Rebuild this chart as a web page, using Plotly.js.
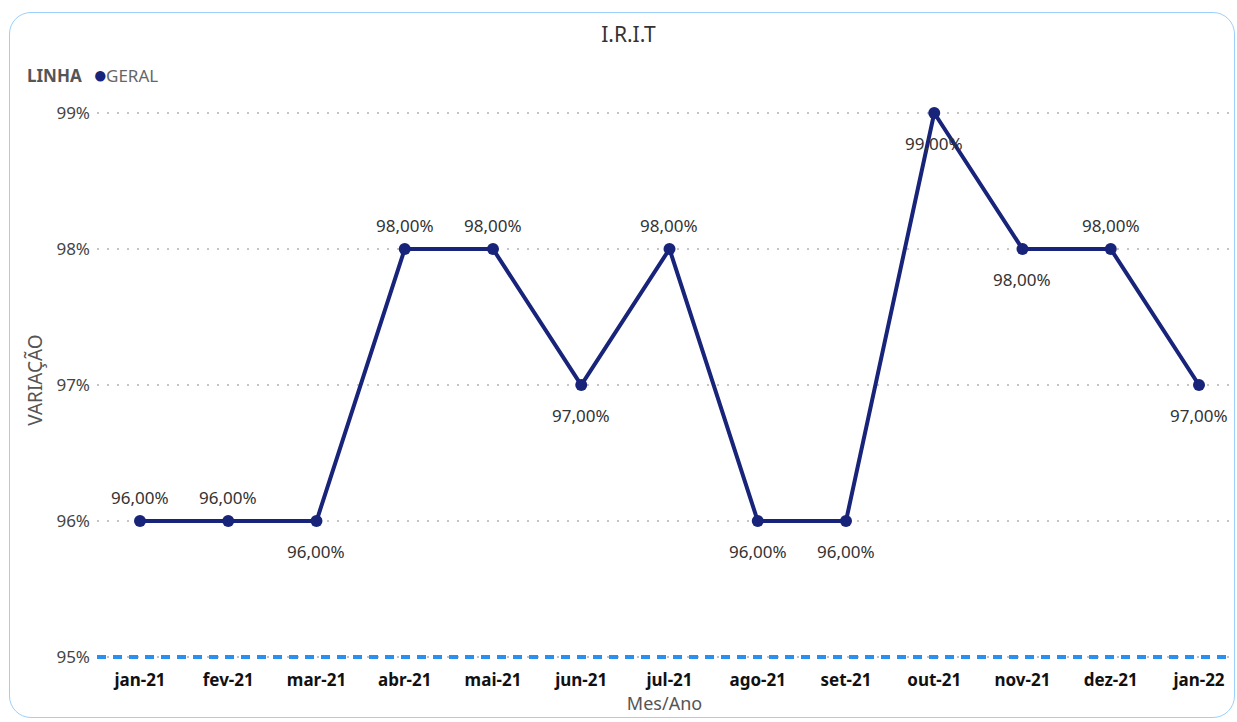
<!DOCTYPE html>
<html>
<head>
<meta charset="utf-8">
<script src="https://cdn.plot.ly/plotly-3.0.1.min.js"></script>
<style>
html,body{margin:0;padding:0;background:#fff;}
#frame{position:absolute;left:9px;top:12px;width:1226px;height:706px;border:1.5px solid #9ccffa;border-radius:22px;box-sizing:border-box;}
#chart{position:absolute;left:0;top:0;width:1237px;height:722px;}
</style>
</head>
<body>
<div id="frame"></div>
<div id="chart"></div>
<script>
const months = ["jan-21","fev-21","mar-21","abr-21","mai-21","jun-21","jul-21","ago-21","set-21","out-21","nov-21","dez-21","jan-22"];
const geral = [0.96,0.96,0.96,0.98,0.98,0.97,0.98,0.96,0.96,0.99,0.98,0.98,0.97];
const labelAbove = [true,true,false,true,true,false,true,false,false,false,false,true,false];
const yTicks = [0.95,0.96,0.97,0.98,0.99];
const refLine = 0.95;

const font = "'Noto Sans', 'Open Sans', sans-serif";
const navy = "#17247a";

const trace = {
  x: months,
  y: geral,
  type: "scatter",
  mode: "lines+markers",
  line: {color: navy, width: 4},
  marker: {color: navy, size: 12},
  cliponaxis: false,
  showlegend: false,
  hoverinfo: "x+y"
};

const fmt = v => (v * 100).toFixed(2).replace(".", ",") + "%";
const labelAnns = months.map((m, i) => ({
  x: m, y: geral[i], xref: "x", yref: "y",
  text: fmt(geral[i]), showarrow: false,
  xanchor: "center", yanchor: "middle",
  yshift: labelAbove[i] ? 24 : -30,
  font: {family: font, size: 17, color: "#333"}
}));

const layout = {
  width: 1237, height: 722,
  margin: {l: 97, r: 5, t: 100, b: 62},
  paper_bgcolor: "rgba(0,0,0,0)",
  plot_bgcolor: "rgba(0,0,0,0)",
  separators: ",.",
  font: {family: font},
  title: {text: "I.R.I.T", font: {family: font, size: 21, color: "#333"}, x: 0.508, xanchor: "center", y: 0.952, yanchor: "middle"},
  xaxis: {
    type: "category",
    range: [-0.487, 12.374],
    showgrid: false, zeroline: false, showline: false,
    ticks: "",
    ticklabelstandoff: 8,
    tickfont: {family: font, size: 17, color: "#111", weight: "bold"},
    title: {text: "Mes/Ano", font: {family: font, size: 18, color: "#555"}, standoff: 2}
  },
  yaxis: {
    range: [0.94978, 0.990956],
    tickvals: yTicks,
    tickformat: ".0%",
    showgrid: true, gridcolor: "#c4c4c4", griddash: "2px,8px", gridwidth: 1.5,
    zeroline: false, showline: false, ticks: "",
    ticklabelstandoff: 6,
    tickfont: {family: font, size: 17, color: "#444"},
    title: {text: "VARIAÇÃO", font: {family: font, size: 19, color: "#555"}, standoff: 8}
  },
  shapes: [{
    type: "line", xref: "paper", x0: 0, x1: 1, yref: "y", y0: refLine, y1: refLine,
    line: {color: "#2990f2", width: 4, dash: "9px,7px"}, layer: "above"
  }],
  annotations: labelAnns.concat([
    {xref: "paper", yref: "paper", x: -0.0635, y: 1.044, xanchor: "left", yanchor: "middle", showarrow: false,
     text: "<b>LINHA</b>", font: {family: font, size: 17, color: "#555"}},
    {xref: "paper", yref: "paper", x: 0.0035, y: 1.047, xanchor: "center", yanchor: "middle", showarrow: false,
     text: "●", font: {family: font, size: 24, color: navy}},
    {xref: "paper", yref: "paper", x: 0.0065, y: 1.044, xanchor: "left", yanchor: "middle", showarrow: false,
     text: "GERAL", font: {family: font, size: 17, color: "#666"}}
  ])
};

Plotly.newPlot("chart", [trace], layout, {displayModeBar: false, responsive: false});
</script>
</body>
</html>
